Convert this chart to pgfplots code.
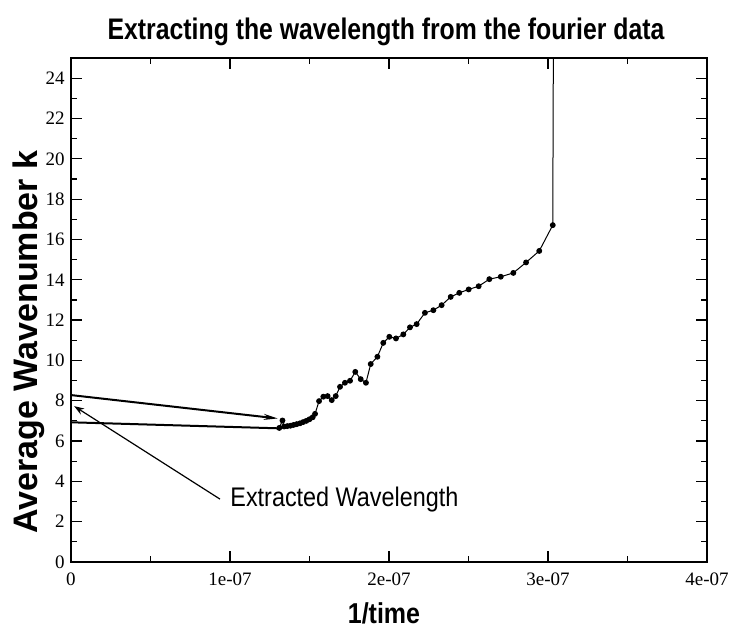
\documentclass[border=0pt]{standalone}
\usepackage{pgfplots}
\pgfplotsset{compat=1.18}
\usepackage{fontspec}
\setmainfont{Liberation Serif}
\newfontfamily\sans{Liberation Sans}
\usetikzlibrary{arrows.meta}
\begin{document}
\begin{tikzpicture}
\begin{axis}[
  scale only axis,
  width=318pt, height=252pt,
  xmin=0, xmax=4, ymin=0, ymax=25,
  xtick={0,1,2,3,4},
  xticklabels={0,1e-07,2e-07,3e-07,4e-07},
  minor x tick num=1,
  ytick={0,2,...,24},
  minor y tick num=1,
  tick align=inside,
  major tick length=5.5pt,
  minor tick length=3pt,
  every tick/.style={black, line width=0.6pt},
  axis line style={line width=0.8pt},
  /pgf/number format/assume math mode=true,
  tick label style={font=\fontsize{9.5}{10}\selectfont},
  every x tick label/.append style={inner sep=0pt, yshift=-5pt},
  every y tick label/.append style={inner sep=0pt, xshift=-3pt},
  clip=true,
]
\addplot[black, line width=0.5pt, mark=*, mark size=1.2pt,
  mark options={fill=black}] coordinates {
(1.31,6.65)(1.33,7.02)(1.34,6.72)(1.36,6.74)(1.38,6.76)(1.40,6.80)(1.42,6.84)
(1.44,6.88)(1.46,6.94)(1.48,7.00)(1.50,7.08)(1.52,7.18)(1.535,7.35)
(1.56,7.98)(1.587,8.20)(1.614,8.23)(1.64,8.03)(1.665,8.23)(1.692,8.69)
(1.723,8.89)(1.755,8.99)(1.788,9.43)(1.822,9.07)(1.855,8.89)(1.885,9.82)
(1.927,10.18)(1.964,10.87)(2.002,11.17)(2.044,11.09)(2.09,11.29)(2.132,11.64)
(2.174,11.80)(2.226,12.36)(2.279,12.49)(2.331,12.74)(2.388,13.15)(2.442,13.35)
(2.501,13.52)(2.564,13.68)(2.631,14.03)(2.703,14.15)(2.782,14.34)(2.862,14.86)
(2.945,15.43)(3.03,16.71)
};
\addplot[black, line width=0.5pt] coordinates {(3.03,16.71)(3.04,40)};
\addplot[black, line width=1pt, -{Stealth[length=7pt,width=3pt]}] coordinates {(0,8.28)(1.30,7.12)};
\addplot[black, line width=1pt] coordinates {(0,6.93)(1.31,6.63)};
\draw[black, line width=0.6pt, {Stealth[length=5pt,width=3.5pt]}-] (axis cs:0.02,7.73) -- (axis cs:0.937,3.12);
\node[anchor=base west, inner sep=0pt, yscale=1.15, font=\sans\fontsize{11.7}{14}\selectfont] at (axis cs:1.0,2.73) {Extracted Wavelength};
\end{axis}
\node[anchor=base, inner sep=0pt, yscale=1.2, font=\sans\bfseries\fontsize{12.4}{14}\selectfont] at (157.5pt,261pt) {Extracting the wavelength from the fourier data};
\node[inner sep=0pt, yscale=1.15, font=\sans\bfseries\fontsize{12.5}{14}\selectfont] at (156.5pt,-25.5pt) {1/time};
\node[inner sep=0pt, rotate=90, font=\sans\bfseries\fontsize{17}{20}\selectfont] at (-21pt,110pt) {Average Wavenumber k};
\path[use as bounding box] (-35.5pt,-33pt) rectangle (329pt,281pt);
\end{tikzpicture}
\end{document}
